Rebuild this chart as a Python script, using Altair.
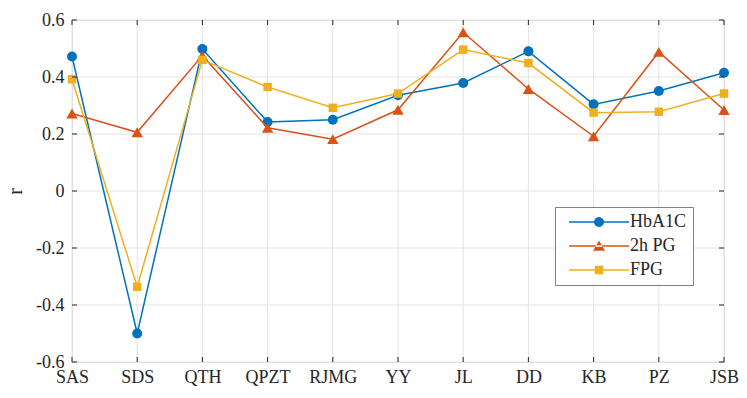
import math
import altair as alt
import pandas as pd

categories = ["SAS", "SDS", "QTH", "QPZT", "RJMG", "YY", "JL", "DD", "KB", "PZ", "JSB"]
hba1c = [0.472, -0.500, 0.498, 0.242, 0.250, 0.336, 0.379, 0.490, 0.304, 0.351, 0.415]
pg2h = [0.272, 0.206, 0.475, 0.222, 0.182, 0.285, 0.557, 0.358, 0.192, 0.488, 0.284]
fpg = [0.392, -0.336, 0.460, 0.365, 0.292, 0.342, 0.496, 0.449, 0.275, 0.278, 0.342]
series_names = ["HbA1C", "2h PG", "FPG"]
colors = ["#0072BD", "#D95319", "#EDB120"]
shapes = ["circle", "triangle-up", "square"]
marker_sizes = [100, 130, 72]
y_ticks = [-0.6, -0.4, -0.2, 0, 0.2, 0.4, 0.6]

FONT = "Liberation Serif"
TXT = "#262626"
GRID = "#e3e3e3"

rows = []
for name, vals in zip(series_names, [hba1c, pg2h, fpg]):
    for c, v in zip(categories, vals):
        rows.append({"cat": c, "series": name, "r": v})
df = pd.DataFrame(rows)

# grid / tick positions (box-style inward ticks)
xgrid = pd.DataFrame({"cat": categories})
ygrid = pd.DataFrame({"r": y_ticks})
left_ticks = pd.DataFrame({"cat": [categories[0]] * len(y_ticks), "r": y_ticks})
right_ticks = pd.DataFrame({"cat": [categories[-1]] * len(y_ticks), "r": y_ticks})
bottom_ticks = pd.DataFrame({"cat": categories, "r": [y_ticks[0]] * len(categories)})
top_ticks = pd.DataFrame({"cat": categories, "r": [y_ticks[-1]] * len(categories)})


# legend glyphs (filled): a thin bar with the marker on it; 5 px per unit
def poly(pts):
    return "M" + "L".join(f"{x:.3f},{y:.3f}" for x, y in pts) + "Z"


bar = poly([(-6, -0.16), (6, -0.16), (6, 0.16), (-6, 0.16)])
circ = poly([(1.0 * math.cos(a * math.pi / 12), 1.0 * math.sin(a * math.pi / 12)) for a in range(24)])
tri = poly([(0, -1.1), (-1.2, 0.95), (1.2, 0.95)])
sq = poly([(-0.85, -0.85), (0.85, -0.85), (0.85, 0.85), (-0.85, 0.85)])
legend_paths = [bar + p for p in (circ, tri, sq)]

x_scale = alt.Scale(type="point", domain=categories, padding=0)
y_scale = alt.Scale(domain=[-0.6, 0.6], nice=False, zero=False)

# same axis definition in every layer (shared axes, no axis=None anywhere)
x_enc = alt.X("cat:O", sort=categories, scale=x_scale,
              axis=alt.Axis(title=None, labelAngle=0, grid=False, domain=False,
                            ticks=False, labelPadding=6,
                            labelFont=FONT, labelFontSize=18, labelColor=TXT))
y_enc = alt.Y("r:Q", scale=y_scale,
              axis=alt.Axis(title="r", values=y_ticks, grid=False, domain=False,
                            ticks=False, labelPadding=8,
                            labelExpr="'' + datum.value",
                            labelFont=FONT, labelFontSize=18, labelColor=TXT,
                            titleFont=FONT, titleFontSize=20, titleFontWeight="normal",
                            titleColor=TXT, titlePadding=10))

layers = [
    alt.Chart(xgrid).mark_rule(color=GRID, strokeWidth=1).encode(x=x_enc),
    alt.Chart(ygrid).mark_rule(color=GRID, strokeWidth=1).encode(y=y_enc),
]
for name, col, shp, sz in zip(series_names, colors, shapes, marker_sizes):
    base = alt.Chart(df).transform_filter(alt.datum.series == name)
    layers.append(base.mark_line(strokeWidth=1.5, color=col).encode(x=x_enc, y=y_enc))
    layers.append(base.mark_point(filled=True, shape=shp, size=sz, opacity=1, color=col)
                  .encode(x=x_enc, y=y_enc))

TL = 5
for tdf, ang, dx, dy in ((left_ticks, 0, TL / 2, 0), (right_ticks, 0, -TL / 2, 0),
                         (bottom_ticks, 90, 0, -TL / 2), (top_ticks, 90, 0, TL / 2)):
    layers.append(alt.Chart(tdf).mark_point(shape="stroke", filled=False, size=TL * TL,
                                            strokeWidth=1, color=TXT, opacity=1, angle=ang,
                                            xOffset=dx, yOffset=dy).encode(x=x_enc, y=y_enc))

leg = alt.Legend(
    title=None, orient="none", legendX=483, legendY=187, direction="vertical",
    padding=6, symbolOffset=29, labelOffset=22, rowPadding=6,
    strokeColor="#808080", fillColor="white", symbolSize=100, symbolStrokeWidth=0,
    symbolOpacity=1,
    labelFont=FONT, labelFontSize=18, labelColor=TXT, labelLimit=400,
    labelExpr="(datum.label == 'FPG' ? '\u00a0\u00a0' : '') + datum.label + '\u00a0\u00a0\u00a0\u00a0\u00a0\u00a0\u00a0'",
)
legend_layer = alt.Chart(df).transform_filter("false").mark_point(filled=True, opacity=1).encode(
    shape=alt.Shape("series:N", scale=alt.Scale(domain=series_names, range=legend_paths), legend=leg),
    fill=alt.Fill("series:N", scale=alt.Scale(domain=series_names, range=colors), legend=leg),
)
layers.append(legend_layer)

chart = alt.layer(*layers).properties(
    width=652, height=342,
    autosize=alt.AutoSizeParams(type="none"),
    padding={"left": 64, "top": 12, "right": 15, "bottom": 26},
).configure_view(stroke="#808080", strokeWidth=1.5).configure(font=FONT)

chart.save("out.html", embed_options={"renderer": "svg", "actions": False})
